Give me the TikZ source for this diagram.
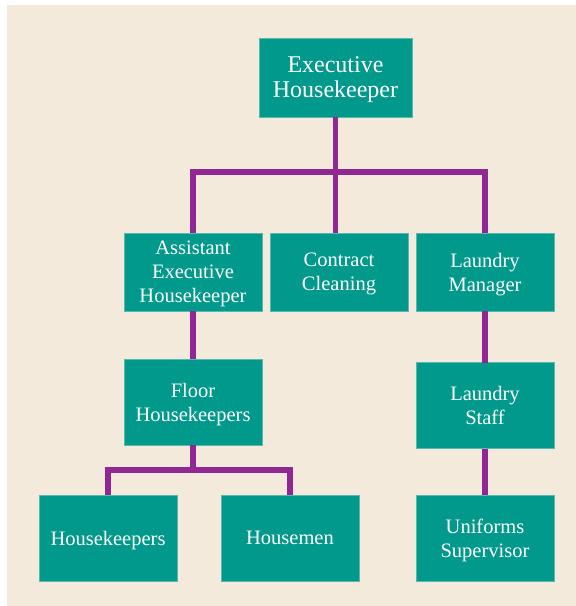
\documentclass[tikz,border=0pt]{standalone}
\usepackage{fontspec}
\setmainfont{Liberation Serif}
\usepackage{xcolor}
\usepackage{tikz}
\usetikzlibrary{positioning}

\definecolor{paper}{RGB}{243,234,220}
\definecolor{boxteal}{RGB}{0,153,140}
\definecolor{boxedge}{RGB}{90,185,175}
\definecolor{linkpurple}{RGB}{145,40,145}

\begin{document}
\begin{tikzpicture}[x=1pt,y=-1pt,
  main node/.style={rectangle,fill=boxteal,draw=boxedge,line width=0.6pt,
  text=white,align=center,inner sep=0pt,outer sep=0pt,text depth=-11pt,
  font=\fontsize{20.5}{24}\selectfont,minimum width=138pt,minimum height=78pt},
  big node/.style={main node,font=\fontsize{24}{25}\selectfont,minimum width=153pt,minimum height=79pt},
  tall node/.style={main node,minimum height=86pt},
  one line/.style={text depth=-1pt},
  link/.style={-,draw=linkpurple,line width=5.5pt,line join=miter},
  hv/.style={to path={-| (\tikztotarget)}}]
  \useasboundingbox (0,0) rectangle (576,606);
  \fill[paper] (7,5) rectangle (576,606);

  \node[big node] (EH) at (335.5,77.5) {Executive\\Housekeeper};
  \node[main node] (AEH) at (193,272) {Assistant\\Executive\\Housekeeper};
  \node[main node] (CC) at (339,272) {Contract\\Cleaning};
  \node[main node] (LM) at (485,272) {Laundry\\Manager};
  \node[tall node] (FH) at (193,402) {Floor\\Housekeepers};
  \node[tall node] (LS) at (485,405.5) {Laundry\\Staff};
  \node[tall node,one line] (HK) at (108,538) {Housekeepers};
  \node[tall node,one line] (HM) at (290,538) {Housemen};
  \node[tall node] (US) at (485,538) {Uniforms\\Supervisor};

  \coordinate (J1) at (335.5,172);
  \coordinate (J2) at (193,470);

  \path[link]
     (EH) edge (J1)
     (J1) edge (J1 |- CC.north)
     (J1) edge [hv] (AEH.north)
     (J1) edge [hv] (LM.north)
     (AEH) edge (FH)
     (FH) edge (J2)
     (J2) edge [hv] (HK.north)
     (J2) edge [hv] (HM.north)
     (LM) edge (LS)
     (LS) edge (US);
\end{tikzpicture}
\end{document}
